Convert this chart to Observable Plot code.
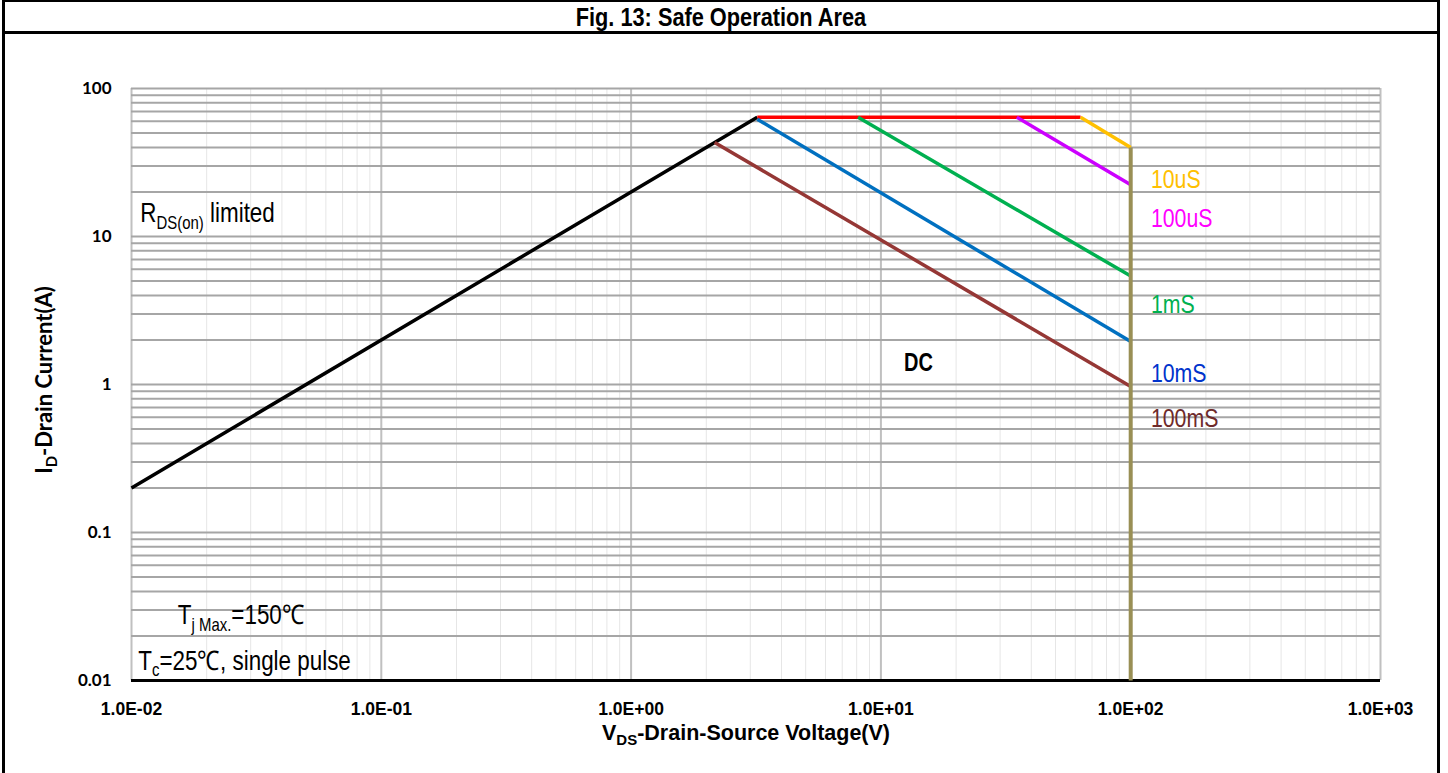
<!DOCTYPE html>
<html><head><meta charset="utf-8">
<script src="https://cdn.jsdelivr.net/npm/d3@7"></script>
<script src="https://cdn.jsdelivr.net/npm/@observablehq/plot@0.6"></script>
<style>
body{margin:0;background:#fff;}
#wrap{position:relative;width:1448px;height:773px;overflow:hidden;background:#fff;}
#wrap svg{position:absolute;left:0;top:0;}
#frame{position:absolute;left:2px;top:0;width:1432px;height:900px;border-left:3px solid #000;border-right:3px solid #000;border-top:2px solid #000;pointer-events:none;}
#title{position:absolute;left:0;top:0;width:100%;height:29px;border-bottom:3px solid #000;text-align:center;font-family:"Liberation Sans",Arial,sans-serif;font-weight:bold;font-size:25px;line-height:31px;}
#title span{display:inline-block;transform:scaleX(0.87);}
</style>
</head><body>
<div id="wrap"><div id="frame"><div id="title"><span>Fig. 13: Safe Operation Area</span></div></div></div>
<script>
// ---- data ----
const xTicks = [0.01, 0.1, 1, 10, 100, 1000];
const xTickLabels = ["1.0E-02","1.0E-01","1.0E+00","1.0E+01","1.0E+02","1.0E+03"];
const yTicks = [0.01, 0.1, 1, 10, 100];
const yTickLabels = ["0.01","0.1","1","10","100"];

const seriesNames  = ["RDS(on)", "limit", "10uS", "100uS", "1mS", "10mS", "100mS", "DC"];
const seriesColors = ["#000000", "#ff0000", "#ffc000", "#cc00ff", "#00b050", "#0070c0", "#953735", "#998f55"];
const seriesV = [[0.01, 3.2], [3.2, 63], [63, 100], [35, 100], [8.1, 100], [3.2, 100], [2.16, 100], [100, 100]];
const seriesI = [[0.2, 64], [64, 64], [64, 40], [64, 22.4], [64, 5.4], [62, 1.95], [43.2, 0.97], [40, 0.01]];

const labelText  = ["10uS", "100uS", "1mS", "10mS", "100mS"];
const labelColor = ["#ffc000", "#ff00ff", "#00b050", "#0033cc", "#6e2a2a"];
const labelV = [121, 121, 121, 121, 121];
const labelI = [24.3, 13.2, 3.47, 1.19, 0.589];

const dcText = ["DC"];
const dcV = [14.2];
const dcI = [1.41];

// annotations with subscripts: [text, isSub]
const noteParts = [
  [["R",0],["DS(on)",1],[" limited",0]],
  [["T",0],["j Max.",1],["=150\u2103",0]],
  [["T",0],["c",1],["=25\u2103, single pulse",0]]
];
const noteV = [0.0109, 0.0154, 0.0107];
const noteI = [14.3, 0.0275, 0.01364];

// ---- build ----
const sans = '"Liberation Sans",Arial,sans-serif';
const xMinor = d3.scaleLog().domain([0.01, 1000]).ticks();
const yMinor = d3.scaleLog().domain([0.01, 100]).ticks();

const lineMarks = [];
seriesNames.forEach((n, k) => {
  const rows = seriesV[k].map((v, j) => ({V: v, I: seriesI[k][j]}));
  lineMarks.push(Plot.line(rows, {x: "V", y: "I", stroke: seriesColors[k], strokeWidth: k === 7 ? 4 : 3.5, strokeLinecap: "butt"}));
});

const plot = Plot.plot({
  width: 1448, height: 773,
  marginLeft: 131, marginRight: 68, marginTop: 88, marginBottom: 93,
  style: {background: "transparent", color: "#000", overflow: "visible"},
  x: {type: "log", domain: [0.01, 1000]},
  y: {type: "log", domain: [0.01, 100]},
  marks: [
    Plot.ruleX(xMinor, {stroke: "#e6e6e6", strokeWidth: 1}),
    Plot.ruleX(xTicks, {stroke: "#c0c0c0", strokeWidth: 2}),
    Plot.ruleY(yMinor, {stroke: "#a6a6a6", strokeWidth: 2}),
    Plot.ruleY([0.01], {stroke: "#000", strokeWidth: 3}),
    Plot.axisX({ticks: xTicks, tickFormat: d => xTickLabels[xTicks.indexOf(d)], tickSize: 0, tickPadding: 22, label: null,
      fontSize: 17.5, fontWeight: "bold", fontFamily: sans}),
    Plot.axisY({ticks: yTicks, tickFormat: d => yTickLabels[yTicks.indexOf(d)], tickSize: 0, tickPadding: 20, label: null,
      fontSize: 17, fontWeight: "bold", fontFamily: 'Lato,"Liberation Sans",sans-serif'}),
    ...lineMarks
  ]
});

const sx = plot.scale("x"), sy = plot.scale("y");
const svg = d3.select(plot);
const g = svg.append("g").attr("font-family", sans).attr("font-size", 26).attr("fill", "#000");

// narrow-looking text: horizontally compressed
function narrowText(px, py, parts, opt = {}) {
  const t = g.append("text")
    .attr("transform", `translate(${px},${py}) scale(${opt.sx || 0.82},1)`)
    .attr("dy", "0.35em")
    .attr("text-anchor", opt.anchor || "start")
    .attr("fill", opt.fill || "#000")
    .attr("font-size", opt.size || 26);
  if (opt.bold) t.attr("font-weight", "bold");
  let sub = false;
  parts.forEach(([s, isSub]) => {
    const ts = t.append("tspan").text(s);
    if (isSub && !sub) { ts.attr("font-size", 18).attr("dy", 7); sub = true; }
    else if (!isSub && sub) { ts.attr("dy", -7); sub = false; }
  });
}

labelText.forEach((s, k) => narrowText(sx.apply(labelV[k]), sy.apply(labelI[k]), [[s, 0]], {fill: labelColor[k]}));
dcText.forEach((s, k) => narrowText(sx.apply(dcV[k]), sy.apply(dcI[k]), [[s, 0]], {anchor: "middle", bold: true, size: 25, sx: 0.8}));
noteParts.forEach((parts, k) => narrowText(sx.apply(noteV[k]), sy.apply(noteI[k]), parts, {size: 27, sx: 0.83}));

// axis titles
const xt = svg.append("text").attr("x", 746).attr("y", 740).attr("text-anchor", "middle")
  .attr("font-family", sans).attr("font-weight", "bold").attr("font-size", 21.5);
xt.append("tspan").text("V");
xt.append("tspan").text("DS").attr("font-size", 15).attr("dy", 5);
xt.append("tspan").text("-Drain-Source Voltage(V)").attr("dy", -5);

const yt = svg.append("text").attr("transform", "translate(52,380) rotate(-90)").attr("text-anchor", "middle")
  .attr("font-family", 'Lato,"Liberation Sans",sans-serif').attr("font-weight", "bold").attr("font-size", 22);
yt.append("tspan").text("I");
yt.append("tspan").text("D").attr("font-size", 15).attr("dy", 5);
yt.append("tspan").text("-Drain Current(A)").attr("dy", -5);

document.getElementById("wrap").insertBefore(plot, document.getElementById("frame"));
</script>
</body></html>
